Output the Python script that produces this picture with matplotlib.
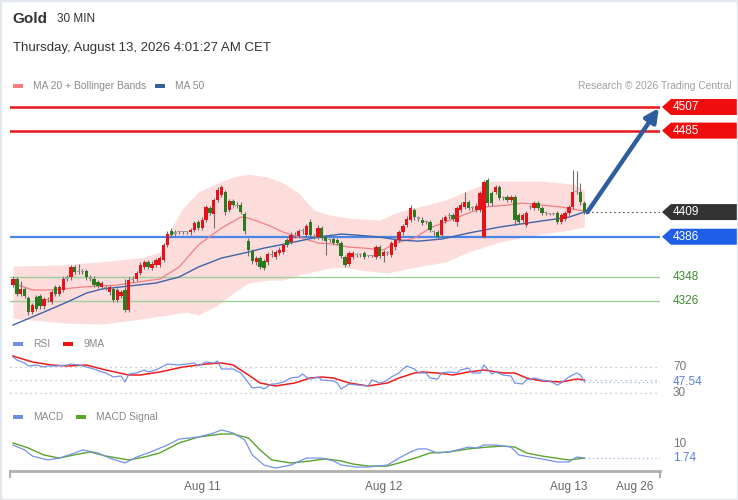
import numpy as np
import matplotlib
matplotlib.use("Agg")
import matplotlib.pyplot as plt
from matplotlib.patches import Rectangle, Polygon
from matplotlib.transforms import blended_transform_factory

plt.rcParams['font.family'] = ['Liberation Sans', 'DejaVu Sans']

# ---- data (30 min candles, index = candle number) ----
opens = [4341, 4347, 4333, 4337, 4329, 4316, 4330, 4331, 4321, 4327,
         4325, 4339, 4333, 4336, 4347, 4348, 4358, 4354, 4353, 4354,
         4348, 4347, 4344, 4339, 4338, 4334, 4337, 4327, 4331, 4336,
         4318, 4346, 4347, 4352, 4358, 4362, 4357, 4360, 4360, 4364,
         4378, 4391, 4389, 4390, 4390, 4390, 4390, 4392, 4400, 4394,
         4402, 4413, 4407, 4420, 4425, 4428, 4411, 4419, 4415, 4416,
         4407, 4382, 4373, 4362, 4366, 4363, 4362, 4369, 4367, 4371,
         4372, 4383, 4381, 4387, 4387, 4391, 4388, 4400, 4387, 4386,
         4394, 4386, 4383, 4384, 4383, 4380, 4367, 4361, 4367, 4369,
         4369, 4371, 4368, 4368, 4367, 4376, 4368, 4371, 4369, 4376,
         4383, 4390, 4397, 4402, 4411, 4403, 4402, 4400, 4400, 4390,
         4390, 4388, 4401, 4405, 4406, 4400, 4411, 4414, 4418, 4413,
         4411, 4411, 4386, 4439, 4427, 4428, 4432, 4422, 4423, 4420,
         4423, 4406, 4402, 4397, 4414, 4413, 4417, 4413, 4408, 4407,
         4407, 4408, 4400, 4403, 4408, 4414, 4428, 4428, 4417]
closes = [4347, 4333, 4337, 4331, 4316, 4322, 4319, 4321, 4328, 4328,
          4334, 4333, 4339, 4347, 4348, 4358, 4353, 4353, 4354, 4348,
          4347, 4341, 4340, 4343, 4339, 4339, 4327, 4336, 4334, 4318,
          4346, 4347, 4352, 4360, 4362, 4358, 4361, 4364, 4366, 4378,
          4389, 4388, 4390, 4390, 4390, 4390, 4392, 4399, 4394, 4402,
          4414, 4408, 4420, 4430, 4432, 4409, 4419, 4416, 4416, 4409,
          4391, 4374, 4363, 4366, 4358, 4357, 4370, 4370, 4372, 4374,
          4378, 4378, 4388, 4388, 4391, 4392, 4396, 4388, 4386, 4394,
          4385, 4382, 4383, 4380, 4380, 4368, 4360, 4371, 4371, 4369,
          4369, 4367, 4368, 4368, 4376, 4368, 4372, 4371, 4380, 4383,
          4390, 4396, 4403, 4413, 4404, 4403, 4399, 4400, 4392, 4390,
          4386, 4402, 4404, 4406, 4403, 4413, 4416, 4418, 4413, 4413,
          4415, 4427, 4437, 4417, 4417, 4432, 4422, 4422, 4420, 4423,
          4402, 4400, 4406, 4408, 4414, 4417, 4413, 4408, 4408, 4407,
          4407, 4400, 4406, 4408, 4414, 4428, 4428, 4418, 4409]
highs = [4349, 4348, 4345, 4339, 4331, 4324, 4332, 4333, 4330, 4330,
         4336, 4341, 4341, 4349, 4350, 4360, 4360, 4361, 4356, 4356,
         4350, 4349, 4346, 4345, 4341, 4341, 4339, 4338, 4336, 4347,
         4348, 4349, 4354, 4362, 4364, 4364, 4363, 4366, 4368, 4380,
         4391, 4394, 4392, 4391, 4391, 4391, 4394, 4401, 4402, 4404,
         4416, 4415, 4422, 4432, 4434, 4430, 4421, 4421, 4418, 4418,
         4409, 4385, 4375, 4368, 4368, 4365, 4372, 4374, 4374, 4376,
         4380, 4385, 4390, 4390, 4393, 4394, 4398, 4403, 4389, 4397,
         4396, 4388, 4385, 4386, 4385, 4382, 4369, 4373, 4373, 4371,
         4371, 4373, 4369, 4369, 4378, 4378, 4374, 4373, 4382, 4385,
         4392, 4398, 4405, 4416, 4413, 4405, 4404, 4402, 4402, 4392,
         4392, 4404, 4406, 4408, 4408, 4415, 4418, 4428, 4420, 4415,
         4417, 4429, 4439, 4441, 4429, 4434, 4434, 4424, 4425, 4425,
         4425, 4408, 4408, 4410, 4416, 4419, 4419, 4415, 4410, 4408,
         4408, 4410, 4408, 4410, 4416, 4448, 4447, 4436, 4419]
lows = [4339, 4331, 4331, 4329, 4313, 4314, 4317, 4319, 4319, 4325,
        4323, 4331, 4331, 4334, 4345, 4346, 4351, 4351, 4351, 4346,
        4345, 4339, 4338, 4337, 4336, 4332, 4325, 4325, 4329, 4316,
        4316, 4344, 4345, 4350, 4356, 4356, 4355, 4358, 4358, 4362,
        4376, 4386, 4387, 4389, 4389, 4389, 4388, 4390, 4392, 4392,
        4400, 4406, 4394, 4418, 4423, 4406, 4409, 4414, 4413, 4407,
        4389, 4368, 4361, 4360, 4356, 4355, 4360, 4367, 4365, 4369,
        4370, 4376, 4379, 4385, 4385, 4389, 4386, 4386, 4384, 4384,
        4383, 4369, 4381, 4378, 4378, 4366, 4358, 4359, 4365, 4367,
        4367, 4365, 4367, 4367, 4365, 4366, 4362, 4369, 4367, 4374,
        4381, 4388, 4395, 4400, 4402, 4401, 4397, 4398, 4390, 4388,
        4384, 4386, 4399, 4403, 4401, 4396, 4409, 4412, 4411, 4411,
        4409, 4409, 4385, 4415, 4415, 4426, 4420, 4420, 4418, 4418,
        4397, 4398, 4400, 4395, 4412, 4411, 4411, 4406, 4406, 4406,
        4406, 4398, 4398, 4401, 4406, 4412, 4426, 4416, 4407]

# moving averages and bands (candle index, price)
ma20_x = [0, 5, 10, 18, 27, 34, 38, 43, 48, 54, 59, 61, 66, 70, 74, 79, 83, 87,
          91, 96, 99, 104, 108, 112, 118, 122, 128, 132, 137, 142, 148]
ma20_y = [4342.8, 4336.3, 4336.3, 4339.1, 4340.9, 4344.6, 4346.5, 4357.7, 4378.2,
          4394.1, 4404.3, 4403.4, 4396.9, 4390.3, 4385.7, 4380.1, 4379.2, 4376.3,
          4375.4, 4373.6, 4380.1, 4384.7, 4394.1, 4399.7, 4408.1, 4413.7, 4415.5,
          4417.4, 4415.5, 4413.7, 4410.0]
upper_x = [0, 12, 25, 34, 38, 40, 44, 48, 53, 57, 61, 66, 70, 74, 78, 82, 87, 95,
           99, 104, 108, 112, 118, 124, 137, 145, 148]
upper_y = [4358.6, 4359.6, 4363.3, 4367.0, 4371.7, 4387.5, 4412.7, 4427.7, 4436.1,
           4441.7, 4444.5, 4441.7, 4436.1, 4426.7, 4410.9, 4406.2, 4403.4, 4401.5,
           4408.1, 4412.7, 4416.5, 4420.2, 4429.5, 4437.9, 4437.9, 4435.1, 4429.5]
lower_x = [0, 5, 14, 23, 31, 40, 45, 48, 53, 57, 61, 66, 70, 74, 82, 86, 90, 97,
           103, 112, 118, 126, 135, 144, 148]
lower_y = [4310.1, 4308.2, 4305.4, 4304.5, 4308.2, 4312.9, 4315.7, 4312.9, 4322.2,
           4333.4, 4342.8, 4345.6, 4345.6, 4350.2, 4356.8, 4357.7, 4354.9, 4352.1,
           4356.8, 4362.4, 4371.7, 4381.0, 4387.5, 4392.2, 4395.0]
ma50_x = [0, 8, 14, 19, 23, 30, 37, 43, 48, 54, 61, 65, 69, 74, 79, 85, 89, 95,
          100, 105, 111, 118, 126, 135, 144, 148]
ma50_y = [4303.6, 4315.7, 4325.0, 4333.4, 4337.2, 4340.0, 4342.8, 4348.4, 4357.7,
          4366.1, 4371.7, 4375.4, 4378.2, 4381.9, 4385.7, 4388.5, 4387.5, 4385.7,
          4382.9, 4381.9, 4383.8, 4389.4, 4395.0, 4399.7, 4404.3, 4409.0]

# RSI and its 9 period MA
rsi_x = [0, 1, 3, 4, 6, 8, 9, 11, 14, 15, 17, 19, 21, 23, 24, 26, 28, 29, 30, 32,
         34, 35, 37, 40, 43, 47, 48, 50, 52, 53, 54, 57, 59, 61, 62, 64, 65, 67, 68,
         70, 72, 74, 75, 76, 77, 79, 80, 83, 84, 85, 87, 89, 92, 93, 95, 96, 97, 98,
         100, 101, 102, 104, 105, 107, 108, 110, 111, 113, 115, 116, 118, 119, 121,
         122, 124, 125, 127, 129, 130, 132, 133, 135, 137, 139, 141, 142, 144, 146,
         147, 148]
rsi_y = [85.4, 80.8, 76.2, 71.5, 73.1, 70.0, 71.5, 71.5, 73.1, 74.6, 73.1, 70.0,
         66.9, 62.3, 60.8, 54.6, 56.2, 46.9, 59.2, 60.8, 65.4, 62.3, 65.4, 74.6,
         73.1, 76.2, 71.5, 77.7, 76.2, 79.2, 66.9, 66.9, 60.8, 45.4, 37.7, 39.2,
         36.2, 43.8, 43.8, 46.9, 53.1, 54.6, 59.2, 54.6, 51.5, 54.6, 50.0, 48.5,
         45.4, 36.2, 43.8, 42.3, 40.8, 50.0, 45.4, 46.9, 50.0, 54.6, 60.8, 66.9,
         71.5, 66.9, 60.8, 60.8, 53.1, 51.5, 60.8, 62.3, 60.8, 65.4, 68.5, 60.8,
         60.8, 73.1, 59.2, 62.3, 57.7, 56.2, 45.4, 43.8, 50.0, 53.1, 50.0, 48.5,
         42.3, 45.4, 54.6, 60.8, 57.7, 47.54]
rsi_ma_x = [0, 5, 10, 14, 19, 24, 30, 33, 38, 44, 50, 54, 57, 61, 64, 68, 73, 77,
            80, 83, 87, 92, 97, 100, 104, 106, 110, 114, 118, 122, 127, 130, 133,
            137, 142, 146, 148]
rsi_ma_y = [86.9, 77.7, 73.1, 71.5, 73.1, 65.4, 57.7, 57.7, 62.3, 70.0, 74.6, 76.2,
            73.1, 57.7, 45.4, 40.8, 45.4, 53.1, 54.6, 53.1, 45.4, 40.8, 45.4, 53.1,
            60.8, 62.3, 60.8, 57.7, 62.3, 65.4, 60.8, 60.8, 53.1, 48.5, 46.9, 51.5,
            50.0]

# MACD and signal
macd_x = [0, 3, 5, 9, 12, 16, 18, 22, 25, 29, 32, 35, 40, 43, 48, 52, 54, 57, 60,
          62, 65, 68, 72, 76, 80, 83, 85, 89, 92, 97, 100, 103, 105, 107, 110, 113,
          118, 120, 122, 125, 129, 131, 134, 137, 141, 144, 146, 148]
macd_y = [9.4, 6.5, 2.9, 0.6, 1.7, 4.7, 6.5, 4.7, 1.7, -1.2, 2.3, 4.7, 9.4, 12.9,
          14.1, 16.5, 18.3, 16.5, 12.4, 3.5, -2.4, -4.2, -2.4, 1.7, 1.7, 0.0, -2.4,
          -3.6, -3.6, -2.4, 1.7, 5.3, 7.1, 7.1, 4.7, 5.3, 8.2, 7.6, 9.4, 9.4, 8.2,
          3.5, 2.3, 1.2, -0.6, -0.6, 2.3, 1.74]
signal_x = [0, 4, 8, 12, 17, 20, 24, 30, 34, 38, 43, 48, 54, 57, 61, 64, 67, 72, 77,
            81, 85, 88, 92, 97, 100, 105, 108, 113, 118, 123, 127, 130, 133, 137,
            142, 144, 148]
signal_y = [10.6, 7.6, 3.5, 1.7, 4.1, 5.3, 2.9, 0.6, 2.3, 4.7, 10.6, 14.1, 15.9,
            15.9, 13.5, 6.5, 0.6, -1.2, 0.0, 1.2, 0.0, -1.8, -3.0, -3.0, -1.2, 2.3,
            4.7, 5.3, 7.1, 8.2, 8.8, 8.2, 4.7, 2.9, 1.2, 0.6, 1.7]

resistances = [4507, 4485]
supports = [4348, 4326]
pivot = 4386
last_price = 4409
rsi_last = 47.54
macd_last = 1.74
tick_pos = [49, 96, 144, 161]
tick_labels = ["Aug 11", "Aug 12", "Aug 13", "Aug 26"]

# ---- layout in pixels ----
W, H = 738, 500
fig = plt.figure(figsize=(W / 100, H / 100), dpi=100)
fig.patch.set_facecolor('white')


def fx(x):
    return x / W


def fy(y):
    return 1 - y / H


def px_axes(left, top, right, bottom):
    a = fig.add_axes([fx(left), fy(bottom), (right - left) / W, (bottom - top) / H])
    for s in a.spines.values():
        s.set_visible(False)
    a.set_xticks([])
    a.set_yticks([])
    a.patch.set_alpha(0)
    return a


XL = (-0.78, 167.6)
ax = px_axes(10, 95, 660, 330)
ax.set_xlim(*XL)
ax.set_ylim(4299, 4518.2)
n = len(closes)
idx = np.arange(n)

# bands and MAs
ub = np.interp(idx, upper_x, upper_y)
lb = np.interp(idx, lower_x, lower_y)
ax.fill_between(idx, lb, ub, color='#fddcdc', lw=0, zorder=1)
ax.plot(ma20_x, ma20_y, color='#f27f83', lw=0.9, zorder=3)
ax.plot(ma50_x, ma50_y, color='#3f64a6', lw=1.0, zorder=3)

# level lines
for r in resistances:
    ax.axhline(r, color='#e8171c', lw=1.8, zorder=2)
ax.axhline(pivot, color='#4a86ea', lw=1.6, zorder=2)
for s in supports:
    ax.axhline(s, color='#9dd09a', lw=1.0, zorder=2)
ax.plot([n - 0.2, XL[1]], [last_price, last_price], color='#555555', lw=0.8,
        ls=(0, (1.5, 2.5)), zorder=2)

# candles
o = np.array(opens, float)
c = np.array(closes, float)
body_lo = np.minimum(o, c)
body_h = np.maximum(np.abs(c - o), 1.0)
cols = ['#9a9a9a' if abs(cc - oo) <= 1 else ('#e3131b' if cc > oo else '#2c7a20')
        for oo, cc in zip(o, c)]
ax.vlines(idx, lows, highs, color='#6e6e6e', lw=0.8, zorder=4)
ax.bar(idx, body_h, bottom=body_lo, width=0.86, color=cols, lw=0, zorder=5)

# arrow to target
ax.annotate('', xy=(XL[1] - 0.3, resistances[0] - 1), xytext=(n - 0.2, last_price),
            arrowprops=dict(arrowstyle='-|>', color='#2d5f9e', lw=3.2,
                            mutation_scale=20, shrinkA=0, shrinkB=0),
            annotation_clip=False, zorder=6)

# right hand labels
blend = blended_transform_factory(fig.transFigure, ax.transData)
hh = 8 * (4518.2 - 4299) / 235.0


def tag(v, face, txt_col='white', box=True):
    if box:
        pts = [(fx(662), v), (fx(671), v + hh), (fx(738), v + hh),
               (fx(738), v - hh), (fx(671), v - hh)]
        ax.add_patch(Polygon(pts, closed=True, transform=blend, facecolor=face,
                             edgecolor='none', clip_on=False, zorder=7))
    ax.text(fx(673), v, str(v), transform=blend, color=txt_col, fontsize=8.5,
            va='center', ha='left', zorder=8)


for r in resistances:
    tag(r, '#f00d0d')
tag(last_price, '#333333')
tag(pivot, '#1f5fe8')
for s in supports:
    tag(s, None, '#3d8a2e', box=False)

# ---- RSI panel ----
ax2 = px_axes(10, 352, 660, 400)
ax2.set_xlim(*XL)
ax2.set_ylim(19.2, 93.1)
for lv in (70, 50, 30):
    ax2.axhline(lv, color='#b5b5b5', lw=0.9, ls=(0, (1, 3)))
ax2.plot(rsi_ma_x, rsi_ma_y, color='#ee1c1c', lw=1.1, zorder=3)
ax2.plot(rsi_x, rsi_y, color='#7592e8', lw=0.9, zorder=4)
ax2.plot([rsi_x[-1], XL[1]], [rsi_last, rsi_last], color='#a9bdf0', lw=1.0,
         ls=(0, (1, 2)))
b2 = blended_transform_factory(fig.transFigure, ax2.transData)
ax2.text(fx(673), 70, '70', transform=b2, color='#777777', fontsize=8.5, va='center')
ax2.text(fx(673), 30, '30', transform=b2, color='#777777', fontsize=8.5, va='center')
ax2.text(fx(673), rsi_last, '%.2f' % rsi_last, transform=b2, color='#5b7fe0',
         fontsize=8.5, va='center')

# ---- MACD panel ----
ax3 = px_axes(10, 425, 660, 471)
ax3.set_xlim(*XL)
ax3.set_ylim(-5.93, 21.2)
ax3.plot(signal_x, signal_y, color='#5aa32c', lw=1.0, zorder=3)
ax3.plot(macd_x, macd_y, color='#7592e8', lw=0.9, zorder=4)
ax3.plot([macd_x[-1], XL[1]], [macd_last, macd_last], color='#a9bdf0', lw=1.0,
         ls=(0, (1, 2)))
b3 = blended_transform_factory(fig.transFigure, ax3.transData)
ax3.text(fx(673), 10, '10', transform=b3, color='#777777', fontsize=8.5, va='center')
ax3.text(fx(673), macd_last, '%.2f' % macd_last, transform=b3, color='#5b7fe0',
         fontsize=8.5, va='center')
ax3.spines['bottom'].set_visible(True)
ax3.spines['bottom'].set_color('#b0b0b0')
ax3.spines['bottom'].set_linewidth(2)
ax3.set_xticks(tick_pos)
ax3.set_xticklabels(tick_labels, color='#666666', fontsize=8.5)
ax3.tick_params(axis='x', length=0, pad=7)
for xe in (0, 1):
    ax3.plot([xe, xe], [0, -0.12], transform=ax3.transAxes, color='#b0b0b0',
             lw=1.5, clip_on=False)

# ---- header and legends ----
fig.text(fx(12), fy(19), 'Gold', fontsize=11, fontweight='bold', color='#333333',
         va='center')
fig.text(fx(57), fy(19), '30 MIN', fontsize=8.5, color='#333333', va='center')
fig.text(fx(13), fy(48), 'Thursday, August 13, 2026 4:01:27 AM CET', fontsize=9.5,
         color='#333333', va='center')
fig.text(fx(731), fy(86), 'Research \u00a9 2026 Trading Central', fontsize=7.4,
         color='#a0a0a0', va='center', ha='right')


def legend_item(x, y, col, label):
    fig.add_artist(Rectangle((fx(x), fy(y + 2)), 10 / W, 4 / H, color=col,
                             transform=fig.transFigure, lw=0))
    fig.text(fx(x + 20), fy(y), label, fontsize=7.4, color='#8a8a8a', va='center')


legend_item(13, 86, '#f77c7c', 'MA 20 + Bollinger Bands')
legend_item(155, 86, '#34609e', 'MA 50')
legend_item(13, 344, '#6f8fe6', 'RSI')
legend_item(63, 344, '#ee1111', '9MA')
legend_item(13, 417, '#6f8fe6', 'MACD')
legend_item(76, 417, '#5aa32c', 'MACD Signal')

# light frame around the card
fig.add_artist(Rectangle((0, 0), 1, 1, transform=fig.transFigure, fill=False,
                         edgecolor='#e3e8ee', lw=2.5))

fig.savefig('out.png', dpi=100)
